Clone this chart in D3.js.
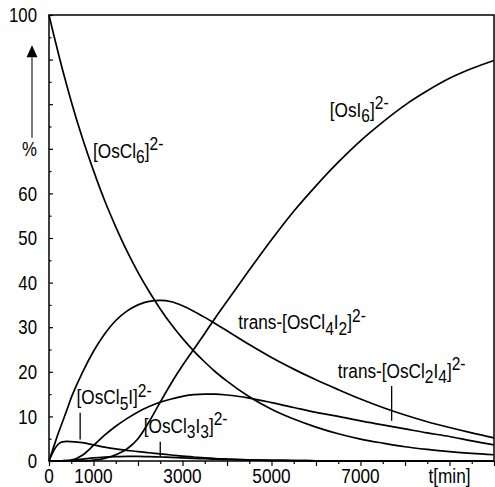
<!DOCTYPE html>
<meta charset="utf-8">
<title>Os halide exchange</title>
<script src="https://d3js.org/d3.v7.min.js"></script>
<style>
  body { margin: 0; background: #fff; }
  svg text { font-family: "Liberation Sans", Arial, Helvetica, sans-serif; fill: #000; }
</style>
<body>
<div id="chart"></div>
<script>

// time grid in minutes
var times = [0, 100, 200, 300, 400, 500, 750, 1000, 1250, 1500, 1750, 2000, 2250, 2500, 2750, 3000,
             3250, 3500, 3750, 4000, 4500, 5000, 5500, 6000, 6500, 7000, 7500, 8000, 8500, 9000, 9500, 10000];

// percentages
var osCl6   = [100, 95.8, 91.8, 87.9, 84.2, 80.6, 72.4, 65.1, 58.4, 52.5, 47.1, 42.3, 38.0, 34.1, 30.6, 27.5,
               24.7, 22.2, 19.9, 17.9, 14.4, 11.6, 9.4, 7.6, 6.1, 4.9, 4.0, 3.2, 2.6, 2.1, 1.7, 1.4];
var osCl5I  = [0, 2.2, 3.7, 4.3, 4.4, 4.35, 4.1, 3.6, 3.1, 2.7, 2.4, 2.1, 1.85, 1.6, 1.35, 1.1,
               0.9, 0.7, 0.55, 0.45, 0.25, 0.15, 0.1, 0.05, 0.02, 0, 0, 0, 0, 0, 0, 0];
var osCl4I2 = [0, 3.0, 6.0, 8.7, 11.4, 14.2, 19.8, 24.6, 28.5, 31.5, 33.6, 35.0, 35.8, 36.0, 35.7, 34.8,
               33.6, 32.2, 30.7, 29.2, 26.1, 23.2, 20.6, 18.2, 16.0, 13.9, 12.0, 10.3, 8.8, 7.5, 6.3, 5.2];
var osCl3I3 = [0, 0, 0.02, 0.05, 0.1, 0.15, 0.4, 0.7, 0.9, 1.0, 1.05, 1.05, 1.0, 0.9, 0.8, 0.7,
               0.6, 0.5, 0.4, 0.35, 0.25, 0.15, 0.1, 0.05, 0.03, 0, 0, 0, 0, 0, 0, 0];
var osCl2I4 = [0, 0, 0, 0.05, 0.1, 0.2, 1.3, 3.5, 5.8, 7.8, 9.5, 11.0, 12.2, 13.2, 13.9, 14.5,
               14.9, 15.0, 15.0, 14.8, 14.1, 13.1, 12.0, 10.9, 10.0, 9.0, 8.1, 7.2, 6.3, 5.5, 4.5, 3.6];
var osI6    = [0, 0, 0, 0, 0, 0, 0, 0.2, 0.6, 1.4, 2.7, 5.0, 8.8, 13.2, 17.5, 21.4,
               25.0, 28.6, 32.3, 35.8, 42.8, 49.6, 56.0, 61.7, 67.0, 71.8, 76.0, 79.8, 83.0, 85.8, 88.0, 89.8];

var yTickLabels = [0, 10, 20, 30, 40, 50, 60, 100];
var xTickLabels = [0, 1000, 3000, 5000, 7000];
var xTitle = "t[min]";
var yTitle = "%";

// label texts, split into normal / sub / sup pieces
var lblOsCl6   = [["[OsCl"], ["6", "sub"], ["]"], ["2-", "sup"]];
var lblOsI6    = [["[OsI"], ["6", "sub"], ["]"], ["2-", "sup"]];
var lblOsCl4I2 = [["trans-[OsCl"], ["4", "sub"], ["I"], ["2", "sub"], ["]"], ["2-", "sup"]];
var lblOsCl2I4 = [["trans-[OsCl"], ["2", "sub"], ["I"], ["4", "sub"], ["]"], ["2-", "sup"]];
var lblOsCl5I  = [["[OsCl"], ["5", "sub"], ["I]"], ["2-", "sup"]];
var lblOsCl3I3 = [["[OsCl"], ["3", "sub"], ["I"], ["3", "sub"], ["]"], ["2-", "sup"]];

var series = [osCl6, osCl5I, osCl4I2, osCl3I3, osCl2I4, osI6];

var margin = {top: 15, right: 1, bottom: 26, left: 49},
    width = 495 - margin.left - margin.right,
    height = 487 - margin.top - margin.bottom;

// the original uses a condensed face; squeeze Liberation Sans horizontally
var squeeze = 0.84;

var svg = d3.select("#chart")
  .append("svg")
    .attr("width", 495)
    .attr("height", 487)
  .append("g")
    .attr("transform", "translate(" + margin.left + "," + margin.top + ")");

var x = d3.scaleLinear().domain([0, 10000]).range([0, width]);
var y = d3.scaleLinear().domain([0, 100]).range([height, 0]);

function place(px, py) {
  return "translate(" + px + "," + py + ") scale(" + squeeze + ",1)";
}

// y ticks (inward), major every 10, minor every 5
svg.append("g")
  .call(d3.axisRight(y).tickValues(d3.range(0, 101, 10)).tickSize(4).tickSizeOuter(0).tickFormat(""))
  .call(function(g) { g.select(".domain").remove(); g.selectAll("line").attr("stroke-width", 1.2); });
svg.append("g")
  .call(d3.axisRight(y).tickValues(d3.range(5, 100, 10)).tickSize(2.5).tickSizeOuter(0).tickFormat(""))
  .call(function(g) { g.select(".domain").remove(); g.selectAll("line").attr("stroke-width", 1.2); });

// x ticks (outward), major every 1000, minor every 500
svg.append("g")
  .attr("transform", "translate(0," + height + ")")
  .call(d3.axisBottom(x).tickValues(d3.range(0, 10001, 1000)).tickSize(5).tickSizeOuter(0).tickFormat(""))
  .call(function(g) { g.select(".domain").remove(); g.selectAll("line").attr("stroke-width", 1.2); });
svg.append("g")
  .attr("transform", "translate(0," + height + ")")
  .call(d3.axisBottom(x).tickValues(d3.range(500, 10000, 1000)).tickSize(3).tickSizeOuter(0).tickFormat(""))
  .call(function(g) { g.select(".domain").remove(); g.selectAll("line").attr("stroke-width", 1.2); });

// tick labels
svg.selectAll(".ylab")
  .data(yTickLabels)
  .enter().append("text")
    .attr("transform", function(d) { return place(-12, y(d)); })
    .attr("dy", "0.36em")
    .attr("text-anchor", "end")
    .style("font-size", "20px")
    .text(function(d) { return d; });

svg.selectAll(".xlab")
  .data(xTickLabels)
  .enter().append("text")
    .attr("transform", function(d) { return place(x(d), height + 22); })
    .attr("text-anchor", "middle")
    .style("font-size", "20.5px")
    .text(function(d) { return d; });

svg.append("text")
  .attr("transform", place(x(9000), height + 22))
  .attr("text-anchor", "middle")
  .style("font-size", "20.5px")
  .text(xTitle);

// y title with arrow
svg.append("text")
  .attr("transform", place(-12, y(70)))
  .attr("dy", "0.36em")
  .attr("text-anchor", "end")
  .style("font-size", "20px")
  .text(yTitle);
svg.append("line")
  .attr("x1", -17).attr("x2", -17)
  .attr("y1", y(72.5)).attr("y2", y(90.5))
  .attr("stroke", "#222").attr("stroke-width", 1.2);
svg.append("path")
  .attr("d", "M" + (-17) + "," + (y(93.2)) + "L" + (-22.5) + "," + (y(90.5)) + "L" + (-11.5) + "," + (y(90.5)) + "Z")
  .attr("fill", "#000");

// curves
var line = d3.line()
  .x(function(d, i) { return x(times[i]); })
  .y(function(d) { return y(d); })
  .curve(d3.curveMonotoneX);

svg.selectAll(".curve")
  .data(series)
  .enter().append("path")
    .attr("d", line)
    .attr("fill", "none")
    .attr("stroke", "#000")
    .attr("stroke-width", 1.7);

// frame
svg.append("rect")
  .attr("x", 0).attr("y", 0)
  .attr("width", width).attr("height", height)
  .attr("fill", "none")
  .attr("stroke", "#000")
  .attr("stroke-width", 1.5);

// curve labels
function richText(parts, t, v) {
  var txt = svg.append("text").attr("transform", place(x(t), y(v))).style("font-size", "20.5px");
  var shift = 0;
  parts.forEach(function(p) {
    var target = p[1] === "sub" ? 5.5 : (p[1] === "sup" ? -7.5 : 0);
    txt.append("tspan")
      .attr("dy", target - shift)
      .style("font-size", p[1] ? "18.5px" : "20.5px")
      .text(p[0]);
    shift = target;
  });
}

richText(lblOsCl6, 990, 68);
richText(lblOsI6, 6310, 77.2);
richText(lblOsCl4I2, 4250, 29.5);
richText(lblOsCl2I4, 6490, 18.7);
richText(lblOsCl5I, 620, 12.7);
richText(lblOsCl3I3, 2130, 6.3);

// pointer ticks
function pointer(t, v1, v2) {
  svg.append("line")
    .attr("x1", x(t)).attr("x2", x(t))
    .attr("y1", y(v1)).attr("y2", y(v2))
    .attr("stroke", "#000").attr("stroke-width", 1.3);
}
pointer(700, 10.8, 4.8);
pointer(2500, 4.3, 0.9);
pointer(7700, 16.8, 9.0);

</script>
</body>
